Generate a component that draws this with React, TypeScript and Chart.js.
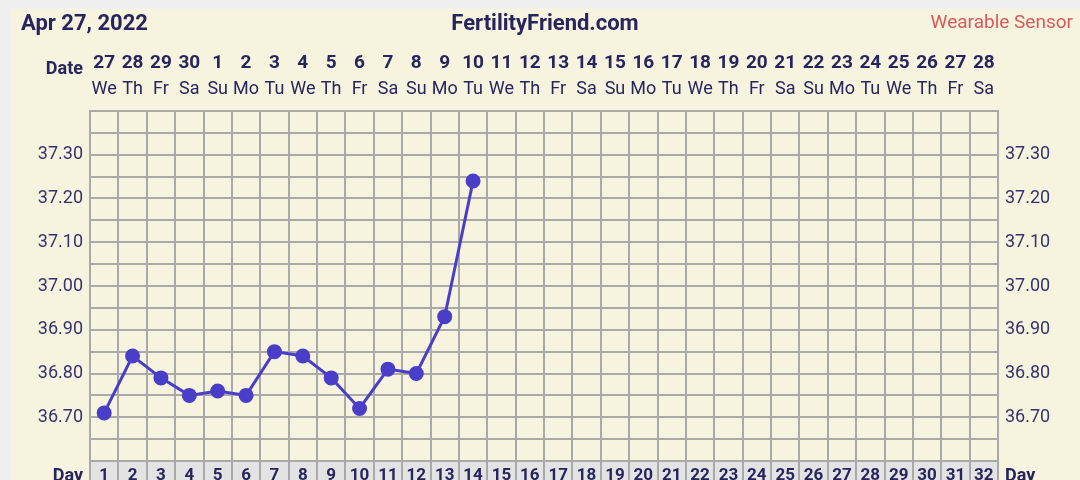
import React, { useEffect, useRef } from "react";
import { Chart, registerables } from "chart.js";

Chart.register(...registerables);

const dayLabels = ["1","2","3","4","5","6","7","8","9","10","11","12","13","14","15","16","17","18","19","20","21","22","23","24","25","26","27","28","29","30","31","32"];
const dateLabels = ["27","28","29","30","1","2","3","4","5","6","7","8","9","10","11","12","13","14","15","16","17","18","19","20","21","22","23","24","25","26","27","28"];
const weekdayLabels = ["We","Th","Fr","Sa","Su","Mo","Tu","We","Th","Fr","Sa","Su","Mo","Tu","We","Th","Fr","Sa","Su","Mo","Tu","We","Th","Fr","Sa","Su","Mo","Tu","We","Th","Fr","Sa"];
const temperatures = [36.71, 36.84, 36.79, 36.75, 36.76, 36.75, 36.85, 36.84, 36.79, 36.72, 36.81, 36.80, 36.93, 37.24];
const gridValues = [36.60, 36.65, 36.70, 36.75, 36.80, 36.85, 36.90, 36.95, 37.00, 37.05, 37.10, 37.15, 37.20, 37.25, 37.30, 37.35, 37.40];
const labeledValues = [36.70, 36.80, 36.90, 37.00, 37.10, 37.20, 37.30];

const headerLeft = "Apr 27, 2022";
const headerCenter = "FertilityFriend.com";
const headerRight = "Wearable Sensor";

const FONT = "Roboto";
const NAVY = "#28245e";
const GRID = "#a9a9a9";

export default function App() {
  const ref = useRef<HTMLCanvasElement | null>(null);

  useEffect(() => {
    const canvas = ref.current;
    if (!canvas) return;

    const yTickCb = (value: any) => {
      const v = Math.round(Number(value) * 100) / 100;
      return labeledValues.some((l) => Math.abs(l - v) < 1e-6) ? v.toFixed(2) : "";
    };
    const setTicks = (scale: any) => {
      scale.ticks = gridValues.map((v) => ({ value: v }));
    };

    const decor = {
      id: "decor",
      beforeDraw(chart: any) {
        const ctx = chart.ctx;
        const { left, right, bottom } = chart.chartArea;
        ctx.save();
        ctx.fillStyle = "#f0f0f0";
        ctx.fillRect(0, 0, chart.width, chart.height);
        ctx.fillStyle = "#f6f4df";
        ctx.fillRect(11, 9, chart.width - 11, chart.height - 9);
        ctx.fillStyle = "#e3e3e3";
        ctx.fillRect(left, bottom, right - left, chart.height - bottom);
        ctx.restore();
      },
      afterDraw(chart: any) {
        const ctx = chart.ctx;
        const { left, right, bottom } = chart.chartArea;
        ctx.save();
        ctx.fillStyle = NAVY;
        ctx.textBaseline = "middle";
        ctx.font = `bold 22px ${FONT}`;
        ctx.textAlign = "left";
        ctx.fillText(headerLeft, 21, 24);
        ctx.textAlign = "center";
        ctx.fillText(headerCenter, 545, 24);
        ctx.font = `19px ${FONT}`;
        ctx.fillStyle = "#d65a5c";
        ctx.textAlign = "right";
        ctx.fillText(headerRight, 1073, 23);
        ctx.fillStyle = NAVY;
        ctx.font = `bold 18px ${FONT}`;
        ctx.textAlign = "right";
        ctx.fillText("Date", left - 7, 69);
        ctx.fillText("Day", left - 7, bottom + 15);
        ctx.textAlign = "left";
        ctx.fillText("Day", right + 7, bottom + 15);
        ctx.restore();
      },
    };

    const chart = new Chart(canvas, {
      type: "line",
      data: {
        labels: dayLabels,
        datasets: [
          {
            data: temperatures,
            borderColor: "#4a3ec8",
            backgroundColor: "#4a3ec8",
            borderWidth: 3,
            pointRadius: 6,
            pointHoverRadius: 6,
            tension: 0,
            xAxisID: "x",
            yAxisID: "y",
          },
        ],
      },
      options: {
        responsive: false,
        animation: false,
        devicePixelRatio: 1,
        layout: { padding: 0 },
        plugins: { legend: { display: false }, tooltip: { enabled: false } },
        scales: {
          x: {
            type: "category",
            position: "bottom",
            offset: true,
            grid: {
              offset: true,
              color: GRID,
              lineWidth: 2,
              drawTicks: true,
              tickLength: 24,
              tickColor: GRID,
              tickWidth: 2,
            },
            border: { display: true, color: GRID, width: 2 },
            ticks: {
              autoSkip: false,
              maxRotation: 0,
              padding: -19,
              color: NAVY,
              font: { family: FONT, size: 17, weight: "bold" },
            },
            afterFit: (s: any) => { s.height = 19; },
          },
          xDate: {
            type: "category",
            position: "top",
            labels: dateLabels,
            offset: true,
            weight: 2,
            grid: { display: false, drawTicks: false },
            border: { display: false },
            ticks: {
              autoSkip: false,
              maxRotation: 0,
              padding: 6,
              color: NAVY,
              font: { family: FONT, size: 19, weight: "bold" },
            },
            afterFit: (s: any) => { s.height = 81; },
          },
          xWeek: {
            type: "category",
            position: "top",
            labels: weekdayLabels,
            offset: true,
            weight: 1,
            grid: { display: false, drawTicks: false },
            border: { display: false },
            ticks: {
              autoSkip: false,
              maxRotation: 0,
              padding: 11,
              color: NAVY,
              font: { family: FONT, size: 18 },
            },
            afterFit: (s: any) => { s.height = 30; },
          },
          y: {
            type: "linear",
            position: "left",
            min: 36.6,
            max: 37.4,
            afterBuildTicks: setTicks,
            grid: { color: GRID, lineWidth: 2, drawTicks: false },
            border: { display: true, color: GRID, width: 2 },
            ticks: {
              padding: 7,
              color: "#36326e",
              font: { family: FONT, size: 18 },
              callback: yTickCb,
              autoSkip: false,
            },
            afterFit: (s: any) => { s.width = 90; },
          },
          y2: {
            type: "linear",
            position: "right",
            min: 36.6,
            max: 37.4,
            afterBuildTicks: setTicks,
            grid: { drawOnChartArea: false, drawTicks: false },
            border: { display: true, color: GRID, width: 2 },
            ticks: {
              padding: 7,
              color: "#36326e",
              font: { family: FONT, size: 18 },
              callback: yTickCb,
              autoSkip: false,
            },
            afterFit: (s: any) => { s.width = 82; },
          },
        },
      } as any,
      plugins: [decor],
    });

    return () => chart.destroy();
  }, []);

  return (
    <div style={{ position: "fixed", left: 0, top: 0, width: 1080, height: 480, background: "#f0f0f0" }}>
      <canvas ref={ref} width={1080} height={480} style={{ display: "block", width: 1080, height: 480 }} />
    </div>
  );
}
